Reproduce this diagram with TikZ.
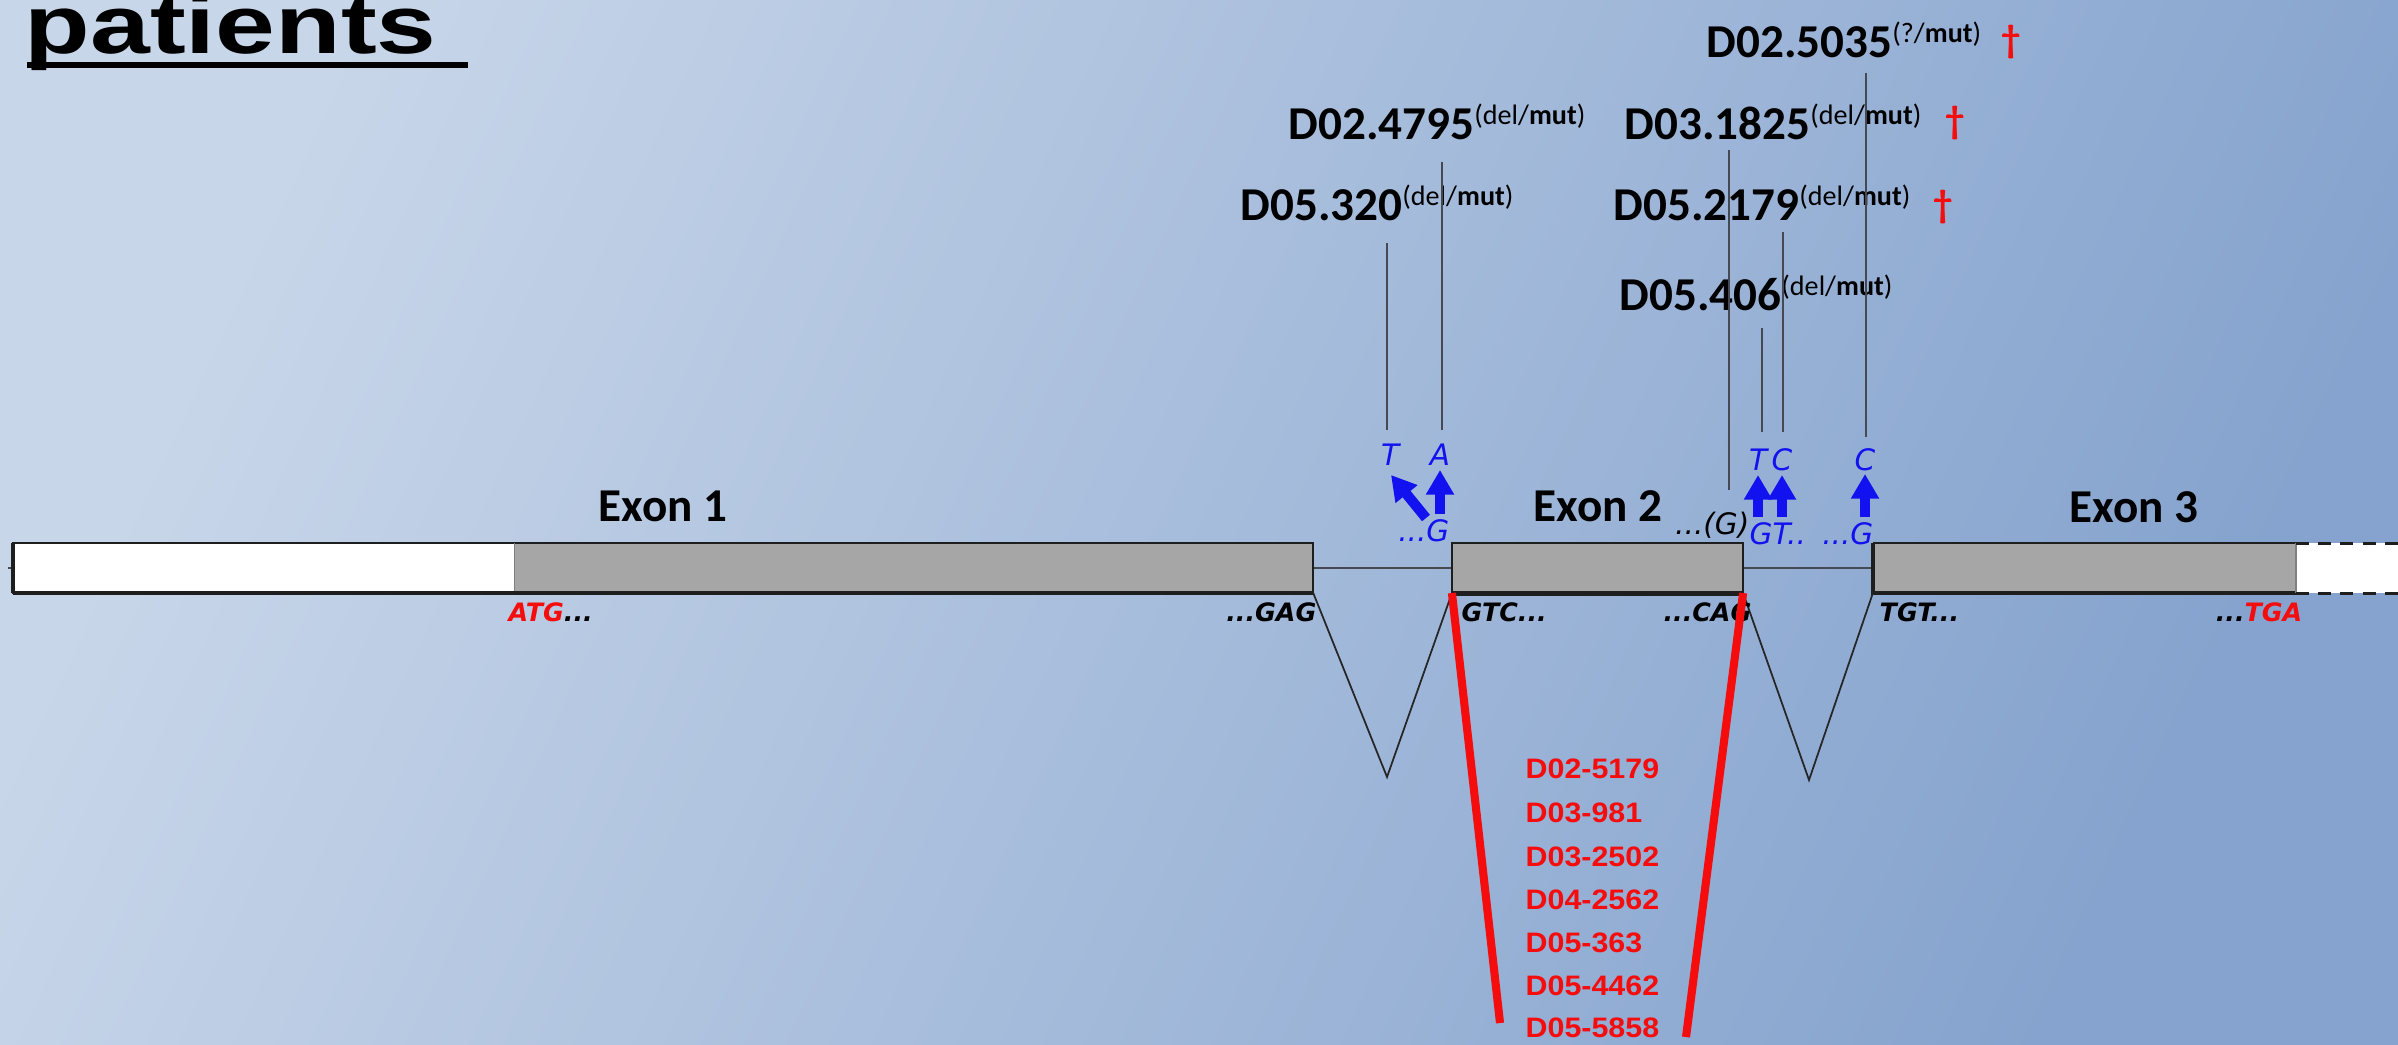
\documentclass[tikz,border=0pt]{standalone}
\usepackage{fontspec}
\setmainfont{Carlito}
\newfontfamily\arialfont{Liberation Sans}
\newfontfamily\seqfont{DejaVu Sans}
\usetikzlibrary{arrows.meta}

\definecolor{bglight}{RGB}{200,214,233}
\definecolor{bgdark}{RGB}{133,163,206}
\definecolor{exongray}{RGB}{166,166,166}
\definecolor{edgeblack}{RGB}{30,30,30}
\definecolor{mutblue}{RGB}{18,18,240}
\definecolor{delred}{RGB}{245,12,12}
\definecolor{guidegray}{RGB}{70,72,82}

% horizontally widened text
\newcommand{\widen}[2]{\scalebox{#1}[1]{#2}}
% patient identifier with its genotype superscript
\newcommand{\patientid}[2]{{\fontsize{13.4}{15}\selectfont\bfseries #1\raisebox{4pt}{\fontsize{8}{9}\selectfont\mdseries(#2/\textbf{mut})}}}
% patients carrying the exon 2 deletion
\newcommand{\delid}[1]{\widen{1.08}{\arialfont\bfseries\fontsize{8}{9}\selectfont #1}}

\tikzset{
  idlabel/.style={anchor=base west, inner sep=0pt, text=black},
  deadmark/.style={inner sep=0pt, text=delred, font=\fontsize{11}{12}\selectfont\bfseries},
  exonname/.style={anchor=base, inner sep=0pt, font=\fontsize{13.4}{15}\selectfont\bfseries},
  exonfill/.style={rectangle, inner sep=0pt, outer sep=0pt, minimum height=0.5cm, fill=exongray},
  exonedge/.style={draw=edgeblack, line width=0.6pt},
  exonbase/.style={draw=edgeblack, line width=1.1pt},
  utrdash/.style={draw=edgeblack, line width=0.85pt, dash pattern=on 3.7pt off 2.6pt},
  intron/.style={draw=guidegray, line width=0.45pt},
  splice/.style={draw=black!85, line width=0.5pt},
  guide/.style={draw=guidegray, line width=0.4pt},
  deletion/.style={draw=delred, line width=2.3pt},
  ntbase/.style={anchor=base, inner sep=0pt, text=mutblue, font=\seqfont\itshape\fontsize{8.4}{9}\selectfont},
  mutarrow/.style={draw=mutblue, line width=2.9pt, -{Triangle[width=7.6pt,length=7pt]}},
  codon/.style={inner sep=0pt, font=\seqfont\bfseries\itshape\fontsize{7.2}{8}\selectfont},
  dellist/.style={anchor=base west, inner sep=0pt, text=delred},
}

\begin{document}
\begin{tikzpicture}[x=0.01cm, y=-0.01cm]
\useasboundingbox (0,0) rectangle (2398,1044);
\clip (0,0) rectangle (2398,1044);
\shade[left color=bglight, right color=bgdark, shading angle=65] (0,0) rectangle (2398,1044);

% title fragment
\node[anchor=base west, inner sep=0pt] (title) at (24,53)
  {\widen{1.3}{\arialfont\bfseries\fontsize{23.5}{26}\selectfont patients}};
\coordinate (ulA) at (27,65);
\coordinate (ulB) at (468,65);
\draw[line width=1.7pt] (ulA) -- (ulB);

% exons
\node[exonfill, fill=white, minimum width=5.02cm] (e1utr) at (264,568) {};
\node[exonfill, minimum width=7.98cm] (e1) at (914,568) {};
\node[exonfill, minimum width=2.91cm] (e2) at (1597.5,568) {};
\node[exonfill, minimum width=4.23cm] (e3) at (2084.5,568) {};
\node[exonfill, fill=white, minimum width=1.3cm, anchor=west] (e3utr) at (e3.east) {};

% introns
\coordinate (stub) at (8,568);
\draw[intron] (stub) -- (e1utr.west);
\draw[intron] (e1.east) -- (e2.west);
\draw[intron] (e2.east) -- (e3.west);

% exon outlines
\draw[exonedge] (e1utr.north west) rectangle (e1.south east);
\draw[gray, line width=0.4pt] (e1.north west) -- (e1.south west);
\draw[exonbase] (e1utr.south west) -- (e1.south east);
\draw[exonbase] (e1utr.north west) -- (e1utr.south west);
\draw[exonedge] (e2.north west) rectangle (e2.south east);
\draw[exonbase, line width=1.4pt] (e2.south west) -- (e2.south east);
\draw[exonedge] (e3.north east) -- (e3.north west);
\draw[exonbase] (e3.north west) -- (e3.south west) -- (e3.south east);
\draw[gray, line width=0.4pt] (e3.north east) -- (e3.south east);
\draw[utrdash] (e3utr.north west) -- (e3utr.north east);
\draw[utrdash] (e3utr.south west) -- (e3utr.south east);

% exon names
\node[exonname] (x1) at (663,521) {Exon 1};
\node[exonname] (x2) at (1598,521) {Exon 2};
\node[exonname] (x3) at (2134,522) {Exon 3};

% splicing
\coordinate (v1) at (1387,777);
\coordinate (v2) at (1809,780);
\draw[splice] (e1.south east) -- (v1) -- (e2.south west);
\draw[splice] (e2.south east) -- (v2) -- (e3.south west);

% boundary codons
\node[codon, anchor=base west] (atg) at (508,621) {\textcolor{delred}{ATG}...};
\node[codon, anchor=base east] (gag) at (1317,621) {...GAG};
\node[codon, anchor=base west] (gtc) at (1461,621) {GTC...};
\node[codon, anchor=base east] (cag) at (1752,621) {...CAG};
\node[codon, anchor=base west] (tgt) at (1879,621) {TGT...};
\node[codon, anchor=base east] (tga) at (2303,621) {...\textcolor{delred}{TGA}};

% exon 2 deletion
\coordinate (d1) at (1500,1023);
\coordinate (d2) at (1686,1037);
\draw[deletion] (e2.south west) -- (d1);
\draw[deletion] (e2.south east) -- (d2);

\node[dellist] (n1) at (1525,778) {\delid{D02-5179}};
\node[dellist] (n2) at (1525,822) {\delid{D03-981}};
\node[dellist] (n3) at (1525,866) {\delid{D03-2502}};
\node[dellist] (n4) at (1525,909) {\delid{D04-2562}};
\node[dellist] (n5) at (1525,952) {\delid{D05-363}};
\node[dellist] (n6) at (1525,995) {\delid{D05-4462}};
\node[dellist] (n7) at (1525,1037) {\delid{D05-5858}};

% patient identifiers
\node[idlabel] (p5035) at (1706,57) {\patientid{D02.5035}{?}};
\node[idlabel] (p4795) at (1288,139) {\patientid{D02.4795}{del}};
\node[idlabel] (p1825) at (1624,139) {\patientid{D03.1825}{del}};
\node[idlabel] (p320) at (1240,220) {\patientid{D05.320}{del}};
\node[idlabel] (p2179) at (1613,220) {\patientid{D05.2179}{del}};
\node[idlabel] (p406) at (1619,310) {\patientid{D05.406}{del}};
\node[deadmark] (k5035) at (2011,42) {†};
\node[deadmark] (k1825) at (1955,123) {†};
\node[deadmark] (k2179) at (1943,207) {†};

% point mutations
\node[ntbase] (mT1) at (1390,465) {T};
\node[ntbase] (mA1) at (1440,465) {A};
\node[ntbase, anchor=base east] (wG1) at (1450,541) {...G};
\node[ntbase] (mT2) at (1758,470) {T};
\node[ntbase] (mC2) at (1782,470) {C};
\node[ntbase] (mC3) at (1865,470) {C};
\node[ntbase, anchor=base west] (wGT) at (1749,544) {GT..};
\node[ntbase, anchor=base east] (wG3) at (1874,544) {...G};
\node[ntbase, anchor=base east, text=black] (wG2) at (1750,534) {...(G)};

\coordinate (r1s) at (1426,518); \coordinate (r1e) at (1391,475);
\coordinate (r2s) at (1440,514); \coordinate (r2e) at (1440,470);
\coordinate (r3s) at (1758,517); \coordinate (r3e) at (1758,475);
\coordinate (r4s) at (1782,517); \coordinate (r4e) at (1782,475);
\coordinate (r5s) at (1865,517); \coordinate (r5e) at (1865,474);
\draw[mutarrow] (r1s) -- (r1e);
\draw[mutarrow] (r2s) -- (r2e);
\draw[mutarrow] (r3s) -- (r3e);
\draw[mutarrow] (r4s) -- (r4e);
\draw[mutarrow] (r5s) -- (r5e);

% guide lines from identifiers to mutation sites
\coordinate (g1t) at (1387,243); \coordinate (g1b) at (1387,430);
\coordinate (g2t) at (1442,162); \coordinate (g2b) at (1442,430);
\coordinate (g3t) at (1729,150); \coordinate (g3b) at (1729,490);
\coordinate (g4t) at (1762,328); \coordinate (g4b) at (1762,432);
\coordinate (g5t) at (1783,232); \coordinate (g5b) at (1783,432);
\coordinate (g6t) at (1866,73);  \coordinate (g6b) at (1866,437);
\draw[guide] (g1t) -- (g1b);
\draw[guide] (g2t) -- (g2b);
\draw[guide] (g3t) -- (g3b);
\draw[guide] (g4t) -- (g4b);
\draw[guide] (g5t) -- (g5b);
\draw[guide] (g6t) -- (g6b);
\end{tikzpicture}
\end{document}
